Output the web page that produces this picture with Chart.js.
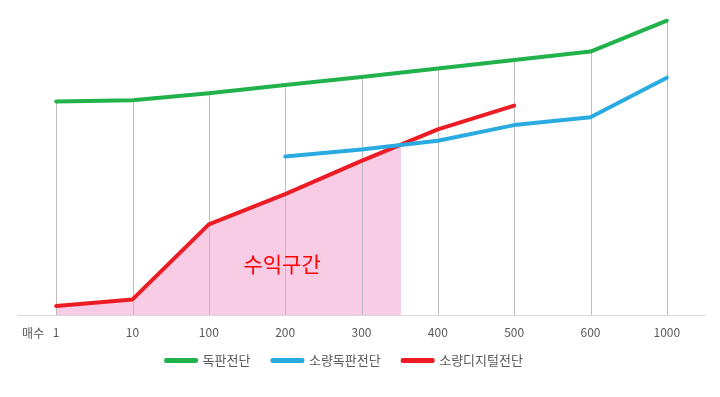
<!DOCTYPE html>
<html>
<head>
<meta charset="utf-8">
<script src="https://cdn.jsdelivr.net/npm/chart.js@4/dist/chart.umd.min.js"></script>
<style>
  html, body { margin: 0; padding: 0; background: #fff; }
  #wrap { width: 720px; height: 397px; }
</style>
</head>
<body>
<div id="wrap"><canvas id="costChart"></canvas></div>
<script>
// 매수 (x축)
const categories = ['1', '10', '100', '200', '300', '400', '500', '600', '1000'];
// 시리즈 값 (0~100 상대값, 그림에서 읽음)
const dokpan = [71.2, 71.6, 73.9, 76.7, 79.3, 82.2, 85.0, 87.8, 98.1];
const soryangDokpan = [null, null, null, 52.8, 55.2, 58.1, 63.3, 65.9, 79.1];
const soryangDigital = [3.0, 5.2, 30.2, 40.3, 51.4, 61.9, 69.8, null, null];
// 수익구간 끝 (빨강선과 파랑선이 만나는 곳)
const profitEndIndex = 4.52;
const profitEndValue = 57.2;

const GREEN = '#21b24b';
const BLUE = '#29abe2';
const RED = '#ed1c24';
const PINK = '#f9cce6';
const FONT = "'Noto Sans CJK KR', 'Noto Sans', sans-serif";

// 수익구간 면: 빨강선 아래, 교차점까지
const profitPoints = soryangDigital.slice(0, 5).map(function (v, i) { return { x: i, y: v }; });
profitPoints.push({ x: profitEndIndex, y: profitEndValue });

// 초록선에서 축까지 내려오는 회색 세로선 + 글자들
const extrasPlugin = {
    id: 'extras',
    afterLayout: function (chart) {
        // 범례 위치 조정 (조금 위, 조금 왼쪽)
        chart.legend.top -= 11;
        chart.legend.bottom -= 11;
        chart.legend.right -= 34;
    },
    afterDatasetDraw: function (chart, args) {
        if (args.index !== 3) return;
        const x = chart.scales.x, y = chart.scales.y, ctx = chart.ctx;
        ctx.save();
        ctx.strokeStyle = '#bdbdbd';
        ctx.lineWidth = 1;
        dokpan.forEach(function (v, i) {
            const px = Math.round(x.getPixelForValue(i)) + 0.5;
            ctx.beginPath();
            ctx.moveTo(px, y.getPixelForValue(v));
            ctx.lineTo(px, y.getPixelForValue(0));
            ctx.stroke();
        });
        ctx.restore();
    },
    afterDraw: function (chart) {
        const x = chart.scales.x, y = chart.scales.y, ctx = chart.ctx;
        ctx.save();
        ctx.fillStyle = '#ff0000';
        ctx.font = '21px ' + FONT;
        ctx.textAlign = 'center';
        ctx.textBaseline = 'middle';
        ctx.fillText('수익구간', chart.scales.xFill.getPixelForValue(2.96), y.getPixelForValue(17));
        ctx.fillStyle = '#595959';
        ctx.font = '12px ' + FONT;
        ctx.textAlign = 'right';
        ctx.fillText('매수', x.getPixelForValue(0) - 12, 333);
        ctx.restore();
    }
};

const ctx = document.getElementById('costChart').getContext('2d');
const costChart = new Chart(ctx, {
    type: 'line',
    data: {
        labels: categories,
        datasets: [{
            label: '독판전단',
            data: dokpan,
            borderColor: GREEN,
            backgroundColor: GREEN,
            borderWidth: 4,
            order: 1
        }, {
            label: '소량독판전단',
            data: soryangDokpan,
            borderColor: BLUE,
            backgroundColor: BLUE,
            borderWidth: 4,
            order: 1
        }, {
            label: '소량디지털전단',
            data: soryangDigital,
            borderColor: RED,
            backgroundColor: RED,
            borderWidth: 4,
            order: 1
        }, {
            label: '수익구간',
            data: profitPoints,
            xAxisID: 'xFill',
            borderWidth: 0,
            borderColor: 'rgba(0,0,0,0)',
            backgroundColor: PINK,
            fill: 'origin',
            order: 10
        }]
    },
    options: {
        responsive: true,
        maintainAspectRatio: false,
        animation: false,
        layout: { padding: { left: 18, right: 15, top: 15, bottom: 9 } },
        elements: {
            point: { radius: 0, hoverRadius: 0 },
            line: { tension: 0, borderCapStyle: 'round', borderJoinStyle: 'round' }
        },
        scales: {
            x: {
                type: 'category',
                offset: true,
                grid: { display: false, drawTicks: false },
                border: { display: true, color: '#d9d9d9', width: 1 },
                ticks: {
                    autoSkip: false,
                    maxRotation: 0,
                    padding: 10,
                    color: '#595959',
                    font: { family: FONT, size: 12 }
                },
                afterFit: function (scale) { scale.height = 28; }
            },
            xFill: {
                type: 'linear',
                display: false,
                min: -0.5,
                max: 8.5
            },
            y: {
                display: false,
                min: 0,
                max: 100
            }
        },
        plugins: {
            legend: {
                position: 'bottom',
                labels: {
                    boxWidth: 30,
                    boxHeight: 1,
                    padding: 22,
                    color: '#595959',
                    font: { family: FONT, size: 13 },
                    filter: function (item) { return item.datasetIndex < 3; }
                }
            },
            tooltip: { enabled: false }
        }
    },
    plugins: [extrasPlugin]
});
</script>
</body>
</html>
